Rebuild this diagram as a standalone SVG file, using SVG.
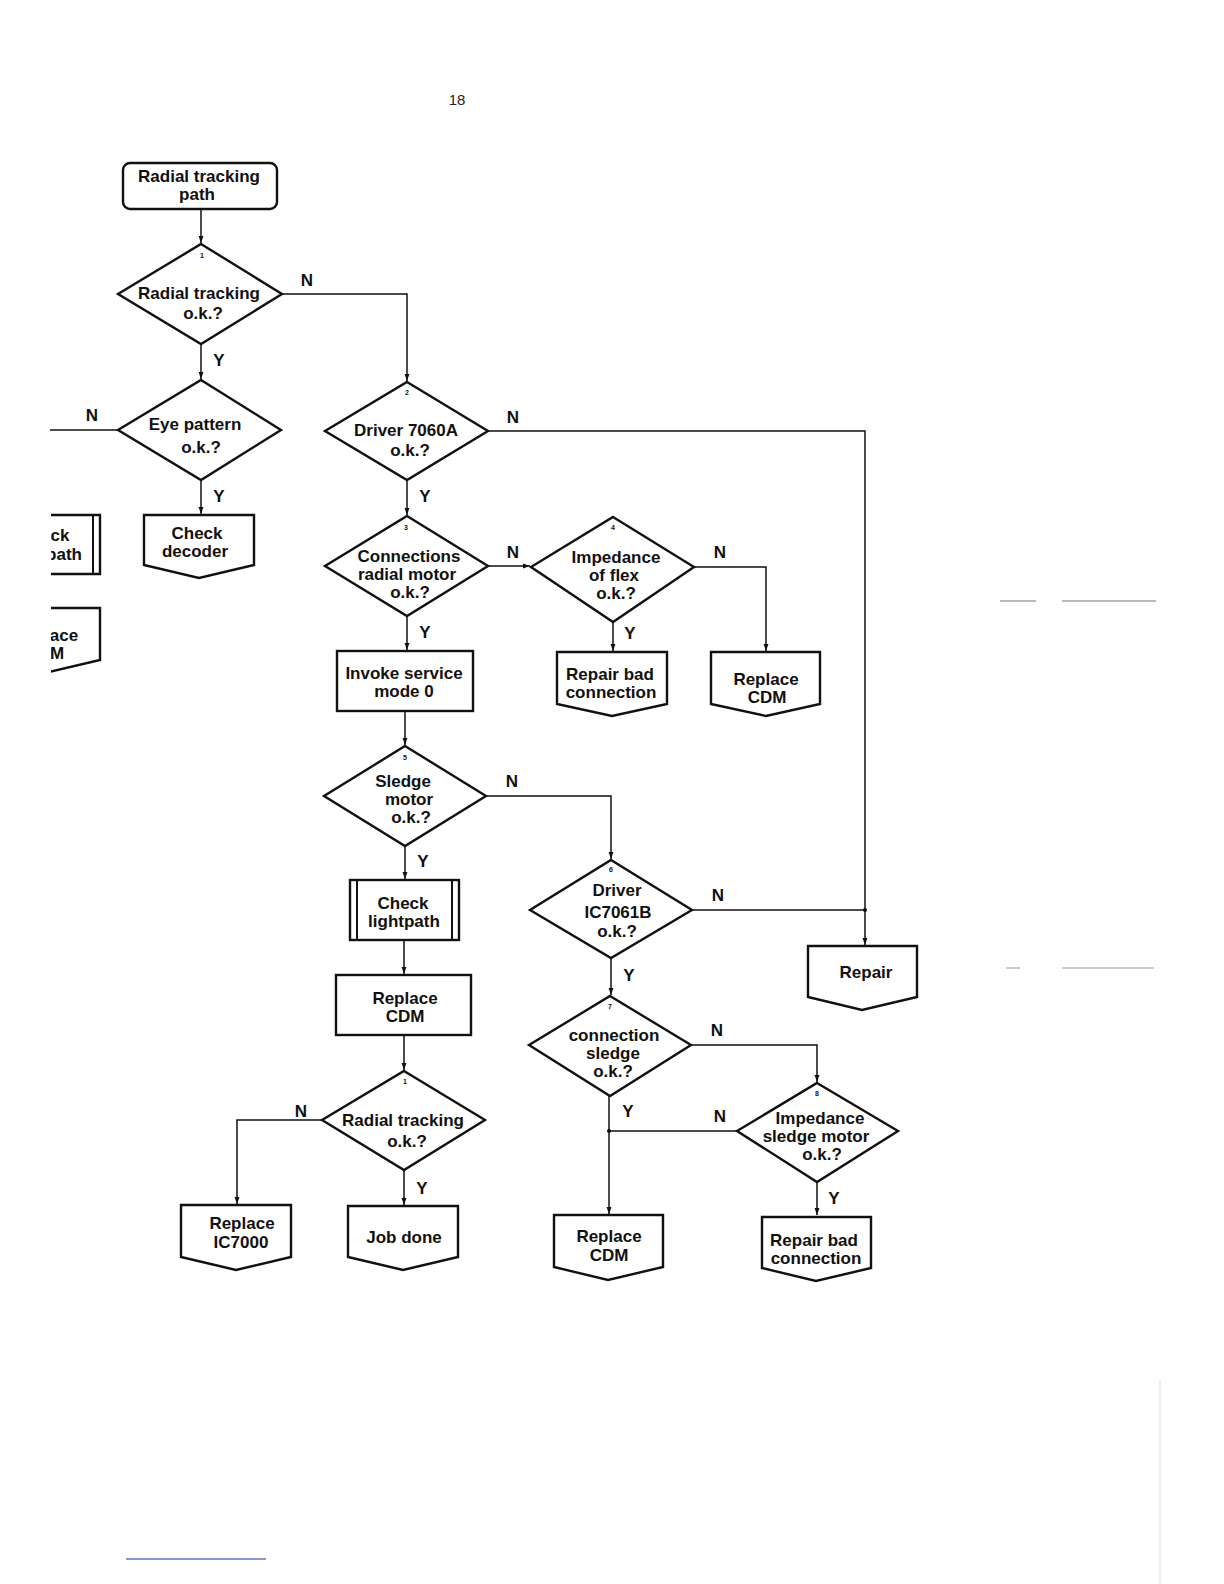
<svg xmlns="http://www.w3.org/2000/svg" width="1224" height="1584" viewBox="0 0 1224 1584">
<style>
.s{fill:#fff;stroke:#111;stroke-width:2.4;stroke-linejoin:miter}
.c{fill:none;stroke:#111;stroke-width:1.5}
.t{font-family:"Liberation Sans",Arial,sans-serif;font-weight:bold;font-size:17px;fill:#111;text-anchor:middle}
.l{font-family:"Liberation Sans",Arial,sans-serif;font-weight:bold;font-size:17px;fill:#111;text-anchor:middle}
.n{font-family:"Liberation Sans",Arial,sans-serif;font-weight:bold;font-size:7px;fill:#111;text-anchor:middle}
.p{font-family:"Liberation Sans",Arial,sans-serif;font-size:15px;fill:#222;text-anchor:middle}
</style>
<defs>
<marker id="a" viewBox="0 0 10 10" refX="10" refY="5" markerWidth="7" markerHeight="7" markerUnits="userSpaceOnUse" orient="auto"><path d="M0,1.5 L10,5 L0,8.5 z" fill="#111"/></marker>
<clipPath id="cl"><rect x="51" y="0" width="1173" height="1584"/></clipPath>
</defs>
<rect width="1224" height="1584" fill="#fff"/>
<text class="p" x="457" y="105">18</text>

<g id="connectors">
<path class="c" d="M201,209 V243" marker-end="url(#a)"/>
<path class="c" d="M282,294 H407 V381" marker-end="url(#a)"/>
<path class="c" d="M201,344 V379" marker-end="url(#a)"/>
<path class="c" d="M118,430 H50"/>
<path class="c" d="M201,480 V514" marker-end="url(#a)"/>
<path class="c" d="M488,431 H865 V945" marker-end="url(#a)"/>
<path class="c" d="M407,480 V515" marker-end="url(#a)"/>
<path class="c" d="M488,566 H530" marker-end="url(#a)"/>
<path class="c" d="M694,567 H766 V651" marker-end="url(#a)"/>
<path class="c" d="M613,622 V651" marker-end="url(#a)"/>
<path class="c" d="M407,616 V650" marker-end="url(#a)"/>
<path class="c" d="M405,711 V745" marker-end="url(#a)"/>
<path class="c" d="M486,796 H611 V859" marker-end="url(#a)"/>
<path class="c" d="M405,846 V879" marker-end="url(#a)"/>
<path class="c" d="M404,940 V974" marker-end="url(#a)"/>
<path class="c" d="M404,1035 V1070" marker-end="url(#a)"/>
<path class="c" d="M322,1120 H237 V1204" marker-end="url(#a)"/>
<path class="c" d="M404,1170 V1205" marker-end="url(#a)"/>
<path class="c" d="M692,910 H865"/>
<circle cx="865" cy="910" r="2" fill="#111"/>
<path class="c" d="M611,958 V995" marker-end="url(#a)"/>
<path class="c" d="M691,1045 H817 V1082" marker-end="url(#a)"/>
<path class="c" d="M609,1096 V1214" marker-end="url(#a)"/>
<path class="c" d="M737,1131 H609"/>
<circle cx="609" cy="1131" r="2" fill="#111"/>
<path class="c" d="M817,1182 V1215" marker-end="url(#a)"/>
<text class="l" x="307" y="286">N</text>
<text class="l" x="219" y="366">Y</text>
<text class="l" x="92" y="421">N</text>
<text class="l" x="219" y="502">Y</text>
<text class="l" x="513" y="423">N</text>
<text class="l" x="425" y="502">Y</text>
<text class="l" x="513" y="558">N</text>
<text class="l" x="720" y="558">N</text>
<text class="l" x="630" y="639">Y</text>
<text class="l" x="425" y="638">Y</text>
<text class="l" x="512" y="787">N</text>
<text class="l" x="423" y="867">Y</text>
<text class="l" x="301" y="1117">N</text>
<text class="l" x="422" y="1194">Y</text>
<text class="l" x="718" y="901">N</text>
<text class="l" x="629" y="981">Y</text>
<text class="l" x="717" y="1036">N</text>
<text class="l" x="628" y="1117">Y</text>
<text class="l" x="720" y="1122">N</text>
<text class="l" x="834" y="1204">Y</text>
</g>

<g id="start">
<rect class="s" x="123" y="163" width="154" height="46" rx="7"/>
<text class="t" x="199" y="182">Radial tracking</text>
<text class="t" x="197" y="200">path</text>
</g>

<g id="d1">
<path class="s" d="M201,244 L282,294 L201,344 L118,294 z"/>
<text class="n" x="202" y="258">1</text>
<text class="t" x="199" y="299">Radial tracking</text>
<text class="t" x="203" y="319">o.k.?</text>
</g>

<g id="eye">
<path class="s" d="M201,380 L281,430 L201,480 L118,430 z"/>
<text class="t" x="195" y="430">Eye pattern</text>
<text class="t" x="201" y="453">o.k.?</text>
</g>

<g id="checkdecoder">
<path class="s" d="M144,515 H254 V565 L199,578 L144,565 z"/>
<text class="t" x="197" y="539">Check</text>
<text class="t" x="195" y="557">decoder</text>
</g>

<g id="leftcut1" clip-path="url(#cl)">
<path class="s" d="M40,515 H100 V574 H40 z"/>
<path class="c" d="M93,515 V574" style="stroke-width:2"/>
<text class="t" x="60" y="541">ck</text>
<text class="t" x="64" y="560">path</text>
</g>

<g id="leftcut2" clip-path="url(#cl)">
<path class="s" d="M40,608 H100 V660 L40,674 z"/>
<text class="t" x="64" y="641">ace</text>
<text class="t" x="51" y="659">DM</text>
</g>

<g id="d2">
<path class="s" d="M407,382 L488,431 L407,480 L325,431 z"/>
<text class="n" x="407" y="395">2</text>
<text class="t" x="406" y="436">Driver 7060A</text>
<text class="t" x="410" y="456">o.k.?</text>
</g>

<g id="d3">
<path class="s" d="M407,516 L488,566 L407,616 L325,566 z"/>
<text class="n" x="406" y="530">3</text>
<text class="t" x="409" y="562">Connections</text>
<text class="t" x="407" y="580">radial motor</text>
<text class="t" x="410" y="598">o.k.?</text>
</g>

<g id="d4">
<path class="s" d="M613,517 L694,567 L613,622 L531,567 z"/>
<text class="n" x="613" y="530">4</text>
<text class="t" x="616" y="563">Impedance</text>
<text class="t" x="614" y="581">of flex</text>
<text class="t" x="616" y="599">o.k.?</text>
</g>

<g id="repairbad1">
<path class="s" d="M557,652 H667 V704 L612,716 L557,704 z"/>
<text class="t" x="610" y="680">Repair bad</text>
<text class="t" x="611" y="698">connection</text>
</g>

<g id="replacecdm1">
<path class="s" d="M711,652 H820 V704 L766,716 L711,704 z"/>
<text class="t" x="766" y="685">Replace</text>
<text class="t" x="767" y="703">CDM</text>
</g>

<g id="invoke">
<rect class="s" x="337" y="651" width="136" height="60"/>
<text class="t" x="404" y="679">Invoke service</text>
<text class="t" x="404" y="697">mode 0</text>
</g>

<g id="d5">
<path class="s" d="M405,746 L486,796 L405,846 L324,796 z"/>
<text class="n" x="405" y="760">5</text>
<text class="t" x="403" y="787">Sledge</text>
<text class="t" x="409" y="805">motor</text>
<text class="t" x="411" y="823">o.k.?</text>
</g>

<g id="checklight">
<rect class="s" x="350" y="880" width="109" height="60"/>
<path class="c" d="M357,880 V940 M452,880 V940" style="stroke-width:2"/>
<text class="t" x="403" y="909">Check</text>
<text class="t" x="404" y="927">lightpath</text>
</g>

<g id="replacecdm2">
<rect class="s" x="336" y="975" width="135" height="60"/>
<text class="t" x="405" y="1004">Replace</text>
<text class="t" x="405" y="1022">CDM</text>
</g>

<g id="d1b">
<path class="s" d="M404,1071 L485,1120 L404,1170 L322,1120 z"/>
<text class="n" x="405" y="1084">1</text>
<text class="t" x="403" y="1126">Radial tracking</text>
<text class="t" x="407" y="1147">o.k.?</text>
</g>

<g id="replaceic">
<path class="s" d="M181,1205 H291 V1257 L236,1270 L181,1257 z"/>
<text class="t" x="242" y="1229">Replace</text>
<text class="t" x="241" y="1248">IC7000</text>
</g>

<g id="jobdone">
<path class="s" d="M348,1206 H458 V1257 L403,1270 L348,1257 z"/>
<text class="t" x="404" y="1243">Job done</text>
</g>

<g id="d6">
<path class="s" d="M611,860 L692,910 L611,958 L530,910 z"/>
<text class="n" x="611" y="872">6</text>
<text class="t" x="617" y="896">Driver</text>
<text class="t" x="618" y="918">IC7061B</text>
<text class="t" x="617" y="937">o.k.?</text>
</g>

<g id="repair">
<path class="s" d="M808,946 H917 V997 L862,1010 L808,997 z"/>
<text class="t" x="866" y="978">Repair</text>
</g>

<g id="d7">
<path class="s" d="M610,996 L691,1045 L610,1096 L529,1045 z"/>
<text class="n" x="610" y="1009">7</text>
<text class="t" x="614" y="1041">connection</text>
<text class="t" x="613" y="1059">sledge</text>
<text class="t" x="613" y="1077">o.k.?</text>
</g>

<g id="d8">
<path class="s" d="M817,1083 L898,1131 L817,1182 L737,1131 z"/>
<text class="n" x="817" y="1096">8</text>
<text class="t" x="820" y="1124">Impedance</text>
<text class="t" x="816" y="1142">sledge motor</text>
<text class="t" x="822" y="1160">o.k.?</text>
</g>

<g id="replacecdm3">
<path class="s" d="M554,1215 H663 V1267 L608,1280 L554,1267 z"/>
<text class="t" x="609" y="1242">Replace</text>
<text class="t" x="609" y="1261">CDM</text>
</g>

<g id="repairbad2">
<path class="s" d="M762,1217 H871 V1268 L816,1281 L762,1268 z"/>
<text class="t" x="814" y="1246">Repair bad</text>
<text class="t" x="816" y="1264">connection</text>
</g>

<g id="scanmarks" fill="none">
<path d="M1000,601 H1036 M1062,601 H1156" stroke="#777" stroke-width="1"/>
<path d="M1006,968 H1020 M1062,968 H1154" stroke="#999" stroke-width="1"/>
<path d="M126,1559 H266" stroke="#1a2a9a" stroke-width="1.2"/>
<path d="M1160,1380 V1584" stroke="#ddd" stroke-width="1"/>
</g>
</svg>
